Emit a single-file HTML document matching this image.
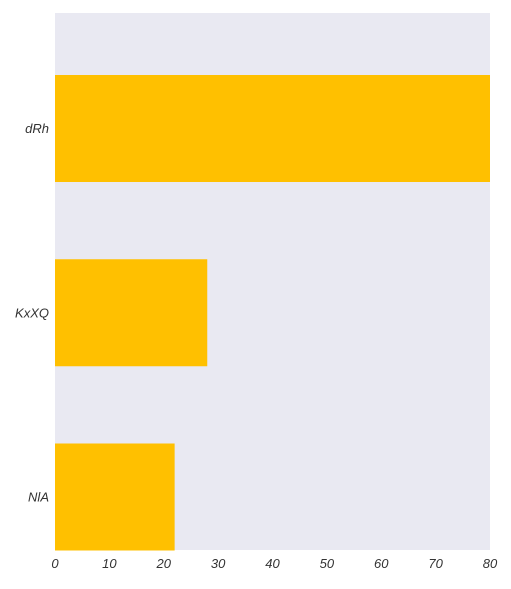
<!DOCTYPE html>
<html><head><meta charset="utf-8"><style>
body{margin:0;background:#fff;}
svg text{font-family:"Liberation Sans",sans-serif;font-style:italic;font-size:13px;fill:#333;}
</style></head><body>
<svg id="chart" width="511" height="584">
<rect x="55" y="13" width="435" height="537" fill="#e9e9f2"/>
<g id="bars"></g><g id="xticks"></g><g id="yticks"></g>
</svg>
<script>
const categories=["dRh","KxXQ","NlA"];
const values=[80,28,22];
const xTicks=[0,10,20,30,40,50,60,70,80];
const ns="http://www.w3.org/2000/svg";
const x=v=>55+v*(435/80);
const yc=i=>128.5+i*184.25;
const bh=107;
const bars=document.getElementById('bars');
values.forEach((v,i)=>{
 const r=document.createElementNS(ns,'rect');
 r.setAttribute('x',x(0));r.setAttribute('y',yc(i)-bh/2);
 r.setAttribute('width',x(v)-x(0));r.setAttribute('height',bh);
 r.setAttribute('fill','#ffc000');
 
 
 bars.appendChild(r);
 const t=document.createElementNS(ns,'text');
 t.setAttribute('x',49);t.setAttribute('y',yc(i)+4.5);t.setAttribute('text-anchor','end');
 t.textContent=categories[i];
 
 
 document.getElementById('yticks').appendChild(t);
});
xTicks.forEach(v=>{
 const t=document.createElementNS(ns,'text');
 t.setAttribute('x',x(v));t.setAttribute('y',568);t.setAttribute('text-anchor','middle');
 t.textContent=v;
 
 
 document.getElementById('xticks').appendChild(t);
});
</script>
</body></html>
